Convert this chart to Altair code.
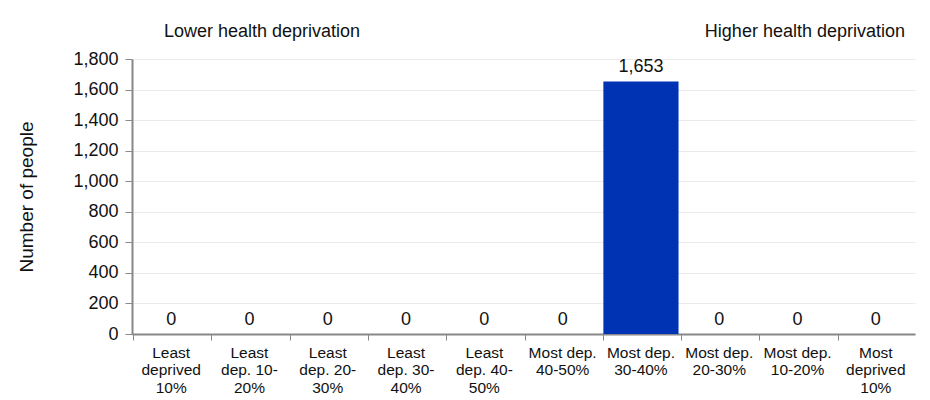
import altair as alt
import pandas as pd

categories = [
    "Least|deprived|10%", "Least|dep. 10-|20%", "Least|dep. 20-|30%",
    "Least|dep. 30-|40%", "Least|dep. 40-|50%", "Most dep.|40-50%",
    "Most dep.|30-40%", "Most dep.|20-30%", "Most dep.|10-20%", "Most|deprived|10%",
]
values = [0, 0, 0, 0, 0, 0, 1653, 0, 0, 0]
y_ticks = [0, 200, 400, 600, 800, 1000, 1200, 1400, 1600, 1800]
annotations = ["Lower health deprivation", "Higher health deprivation"]

df = pd.DataFrame({"cat": categories, "val": values})
FONT = "Liberation Sans"

base = alt.Chart(df).encode(
    x=alt.X("cat:N", sort=categories, title=None,
            scale=alt.Scale(paddingInner=0.04, paddingOuter=0.02),
            axis=alt.Axis(labelExpr="split(datum.label, '|')", labelAngle=0,
                          labelFontSize=15.5, labelColor="#111", labelFont=FONT,
                          labelLineHeight=17.5, labelPadding=5, tickSize=6,
                          domainColor="#888", tickColor="#888", domainWidth=2,
                          labelBaseline="top", bandPosition=0)),
    y=alt.Y("val:Q", title="Number of people",
            scale=alt.Scale(domain=[0, 1800], nice=False),
            axis=alt.Axis(values=y_ticks, format=",d",
                          labelOverlap=False, tickCount=10,
                          labelFontSize=18, labelColor="#111", labelFont=FONT,
                          titleFontSize=19, titleFont=FONT, titleFontWeight="normal",
                          titleColor="#111", titlePadding=36, tickSize=7,
                          domainColor="#888", tickColor="#888", domainWidth=2,
                          gridColor="#ebebeb", labelPadding=7)),
)

bars = base.mark_bar(color="#0033B4")

labels = base.mark_text(dy=-14, fontSize=18, font=FONT, color="#111").encode(
    text=alt.Text("val:Q", format=",d"),
)

ann_df = pd.DataFrame({"t": annotations})
ann_left = alt.Chart(ann_df.iloc[[0]]).mark_text(
    fontSize=18, font=FONT, color="#111", align="left", baseline="middle"
).encode(x=alt.value(32), y=alt.value(-27), text="t:N")
ann_right = alt.Chart(ann_df.iloc[[1]]).mark_text(
    fontSize=18, font=FONT, color="#111", align="right", baseline="middle"
).encode(x=alt.value(773), y=alt.value(-27), text="t:N")

chart = alt.layer(bars, labels, ann_left, ann_right).properties(
    width=783, height=275,
    autosize=alt.AutoSizeParams(type="none"),
    padding={"left": 124, "top": 51, "right": 7, "bottom": 66},
).configure_view(stroke=None).configure_axisX(grid=False)

chart.save("out.html", embed_options={"renderer": "svg", "actions": False})
